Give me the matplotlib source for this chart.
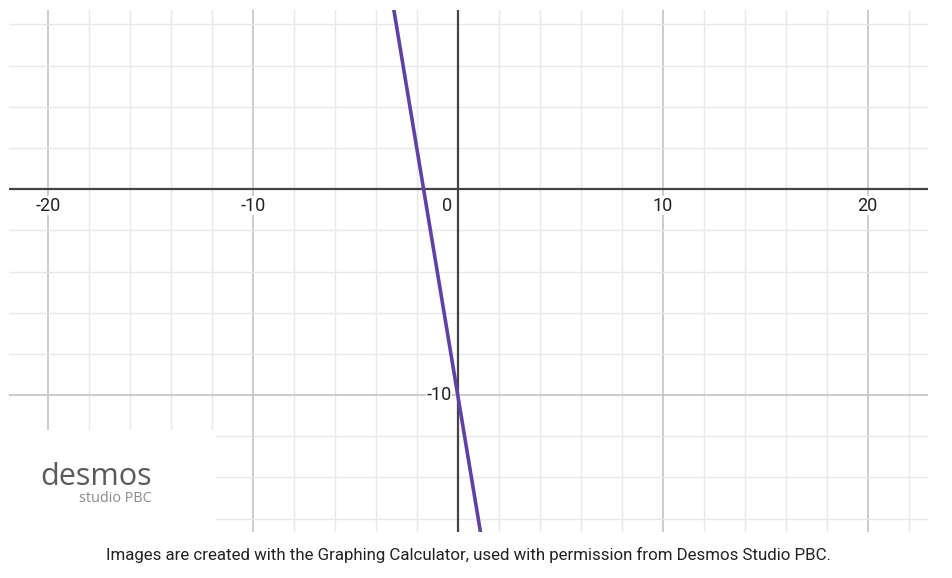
import numpy as np
import matplotlib.pyplot as plt
from matplotlib.patches import Rectangle

# line y = -6x - 10, two points
line_x = [-4.0, 2.0]
line_y = [14.0, -22.0]

x_range = (-21.9, 22.95)
y_range = (-16.65, 8.7)
x_labels = [-20, -10, 10, 20]
y_labels = [-10]

caption = "Images are created with the Graphing Calculator, used with permission from Desmos Studio PBC."

W, H = 952, 578
fig = plt.figure(figsize=(W / 100, H / 100), dpi=100)
ax = fig.add_axes([9 / W, (H - 532) / H, (928 - 9) / W, (532 - 10) / H])
ax.set_xlim(*x_range)
ax.set_ylim(*y_range)
ax.axis('off')

# grid: minor every 2, major every 10
for gx in np.arange(-22, 24, 2):
    if gx == 0:
        continue
    major = gx % 10 == 0
    ax.axvline(gx, color='#c8c8c8' if major else '#e8e8e8', lw=1.3 if major else 1.0, zorder=1)
for gy in np.arange(-16, 10, 2):
    if gy == 0:
        continue
    major = gy % 10 == 0
    ax.axhline(gy, color='#c8c8c8' if major else '#e8e8e8', lw=1.3 if major else 1.0, zorder=1)

# axes
ax.axhline(0, color='#444444', lw=1.6, zorder=2)
ax.axvline(0, color='#444444', lw=1.6, zorder=2)

# logo box hides grid in the corner
ax.add_patch(Rectangle((x_range[0], y_range[0]), (216 - 9) / 20.5, (532 - 430) / 20.6,
                       facecolor='white', edgecolor='none', zorder=3))

ax.plot(line_x, line_y, color='#6042a6', lw=2.6, zorder=5, solid_capstyle='butt')

lab = dict(fontsize=13, family='Roboto', color='#222222', zorder=4,
           bbox=dict(facecolor='white', edgecolor='none', pad=0.5))
for v in x_labels:
    ax.text(v, -0.8, f"-{abs(v)}" if v < 0 else str(v), ha='center', va='center', **lab)
ax.text(-0.27, -0.8, "0", ha='right', va='center', **lab)
for v in y_labels:
    ax.text(-0.3, v, f"-{abs(v)}", ha='right', va='center', **lab)

fig.text(40 / W, 1 - 477 / H, "desmos", fontsize=22, family='Open Sans', color='#5a5a5a',
         ha='left', va='center')
fig.text(152 / W, 1 - 498 / H, "studio PBC", fontsize=10.4, family='Open Sans', color='#8a8a8a',
         ha='right', va='center')

fig.text(468 / W, 1 - 555 / H, caption, fontsize=12.2, family='Roboto', color='#222222',
         ha='center', va='center')

fig.savefig('out.png', dpi=100)
